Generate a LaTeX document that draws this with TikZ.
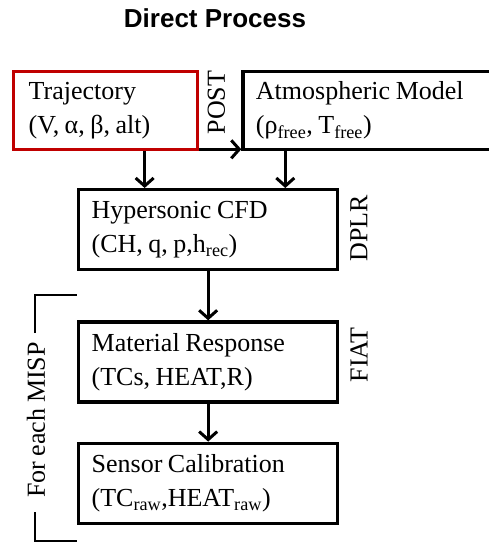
\documentclass[tikz,border=0pt]{standalone}
\usepackage{fontspec}
\setmainfont[WordSpace=0.85]{Liberation Serif}
\newfontfamily\titlefont{Liberation Sans}
\usetikzlibrary{arrows.meta,positioning}
\definecolor{trajred}{RGB}{192,0,0}
\tikzset{
  stage/.style   = {shape=rectangle, draw, line width=3.3pt,
                    align=flush left,
                    inner xsep=13pt, inner ysep=0pt, minimum height=80pt,
                    text width=233pt},
  start/.style   = {stage, draw=trajred, inner xsep=15pt,
                    text width=154pt, minimum height=78pt},
  toolname/.style = {rotate=90, inner sep=0pt},
  flow/.style    = {line width=3pt,
                    -{Straight Barb[length=8pt,width=18pt]}},
  bracket/.style = {line width=2.8pt}
}

\begin{document}
\begin{tikzpicture}
  [
    x = 1pt, y = 1pt,
    every node/.style = {font=\fontsize{26}{34}\selectfont}
  ]
  \useasboundingbox (0,0) rectangle (489,-544);
  \clip (0,0) rectangle (489,-544);

  \node [anchor=base, font=\titlefont\bfseries\fontsize{26}{30}\selectfont]
    (title) at (215,-27) {Direct Process};

  % boxes
  \node [start, anchor=north west] (traj) at (12,-70)
    {Trajectory\\(V, α, β, alt)};
  \node [stage, right=42pt of traj, minimum height=78pt, text width=244pt]
    (atmo) {Atmospheric Model\\(ρ\textsubscript{free}, T\textsubscript{free})};
  \node [stage, anchor=north west] (cfd) at (77,-188)
    {Hypersonic CFD\\(CH, q, p,h\textsubscript{rec})};
  \node [stage, below=49pt of cfd] (mat)
    {Material Response\\(TCs, HEAT,R)};
  \node [stage, below=38pt of mat] (sen)
    {Sensor Calibration\\(TC\textsubscript{raw},HEAT\textsubscript{raw})};

  % tool names
  \node [toolname] (post) at (216.5,-102.5) {POST};
  \node [toolname] (dplr) at (359,-228) {DPLR};
  \node [toolname] (fiat) at (359,-355) {FIAT};
  \node [toolname] (misp) at (36,-420) {For each MISP};

  % arrows
  \draw [flow] ([yshift=2pt]traj.south east) -- ([yshift=2pt]atmo.south west);
  \coordinate (t1) at ([xshift=39pt]traj.south);
  \coordinate (a1) at ([xshift=44pt]atmo.south west);
  \draw [flow] (t1) -- (t1 |- cfd.north);
  \draw [flow] (a1) -- (a1 |- cfd.north);
  \draw [flow] (cfd) -- (mat);
  \draw [flow] (mat) -- (sen);

  % bracket
  \draw [bracket] (35,-333) -- (35,-295) -- (77,-295);
  \draw [bracket] (35,-512) -- (35,-541) -- (77,-541);
\end{tikzpicture}
\end{document}
